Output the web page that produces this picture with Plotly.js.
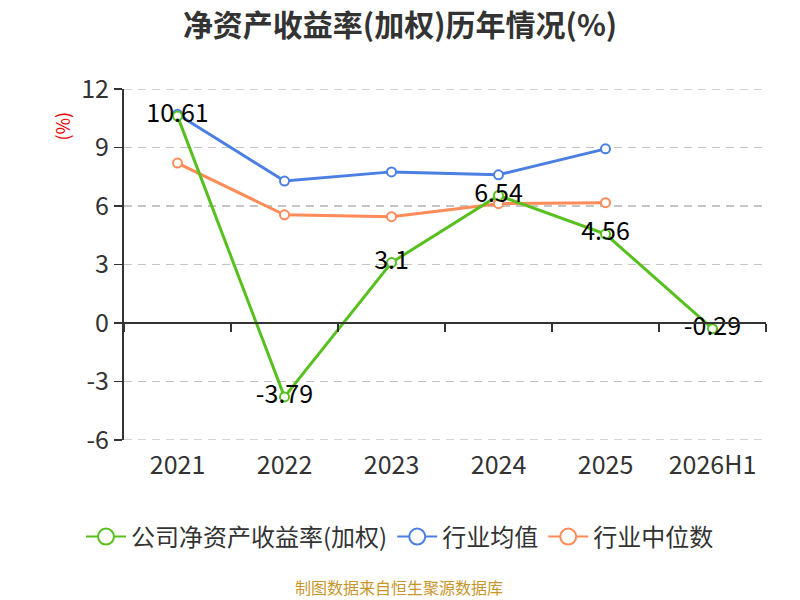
<!DOCTYPE html>
<html>
<head>
<meta charset="utf-8">
<script src="https://cdn.plot.ly/plotly-3.0.1.min.js"></script>
<style>
  html, body { margin: 0; padding: 0; background: #fff; }
  #chart { width: 800px; height: 600px; }
</style>
</head>
<body>
<div id="chart"></div>
<script>
var years = ['2021', '2022', '2023', '2024', '2025', '2026H1'];
var companyRoe = [10.61, -3.79, 3.1, 6.54, 4.56, -0.29];
var industryMean = [10.7, 7.28, 7.75, 7.6, 8.93, null];
var industryMedian = [8.2, 5.55, 5.45, 6.12, 6.17, null];
var yTicks = [-6, -3, 0, 3, 6, 9, 12];

var seriesNames = ['公司净资产收益率(加权)', '行业均值', '行业中位数'];
var seriesColors = ['#57c01f', '#4b7fe3', '#fe8b58'];

var font = '"Noto Sans CJK SC", "Noto Sans", sans-serif';

function lineTrace(i, y, withText) {
    var t = {
        x: years,
        y: y,
        name: seriesNames[i],
        type: 'scatter',
        mode: withText ? 'lines+markers+text' : 'lines+markers',
        line: { color: seriesColors[i], width: 3 },
        marker: { symbol: 'circle', size: 9, color: '#fff', line: { color: seriesColors[i], width: 2 } },
        showlegend: false,
        cliponaxis: false,
        hoverinfo: 'x+y'
    };
    if (withText) {
        t.text = y.map(function (v) { return String(v); });
        t.textposition = 'middle center';
        t.textfont = { family: font, size: 25, color: '#000' };
    }
    return t;
}

// legend-only entries, so the legend circles can be drawn larger than the plot markers
function legendTrace(i) {
    return {
        x: [null],
        y: [null],
        name: seriesNames[i],
        type: 'scatter',
        mode: 'lines+markers',
        line: { color: seriesColors[i], width: 2 },
        marker: { symbol: 'circle', size: 17, color: '#fff', line: { color: seriesColors[i], width: 2 } },
        legendrank: i + 1,
        hoverinfo: 'skip'
    };
}

var data = [
    lineTrace(2, industryMedian, false),
    lineTrace(1, industryMean, false),
    lineTrace(0, companyRoe, true),
    legendTrace(0),
    legendTrace(1),
    legendTrace(2),
    // second x axis used only to draw the axis line with ticks at y = 0
    { x: years, y: [null, null, null, null, null, null], xaxis: 'x2', type: 'scatter', mode: 'lines', showlegend: false, hoverinfo: 'skip' }
];

// dashed lines at the two ends of the value axis (plotly drops grid lines on the range edges)
var edgeGrid = [yTicks[0], yTicks[yTicks.length - 1]].map(function (v) {
    return {
        type: 'line', layer: 'below',
        xref: 'paper', x0: 0, x1: 1,
        yref: 'y', y0: v, y1: v,
        line: { color: '#c4c4c4', width: 1.5, dash: '8px,6px' }
    };
});

var layout = {
    width: 800,
    height: 600,
    margin: { l: 124, r: 34, t: 89, b: 160 },
    paper_bgcolor: '#fff',
    plot_bgcolor: '#fff',
    font: { family: font, color: '#333' },
    title: {
        text: '<b>净资产收益率(加权)历年情况(%)</b>',
        font: { family: font, size: 30, color: '#333' },
        x: 0.5, xanchor: 'center', xref: 'container',
        y: 0.957, yanchor: 'middle'
    },
    xaxis: {
        type: 'category',
        showline: false,
        showgrid: false,
        zeroline: false,
        ticks: '',
        tickfont: { family: font, size: 25, color: '#333' },
        ticklabelstandoff: 8,
        range: [-0.5, 5.5]
    },
    xaxis2: {
        type: 'category',
        overlaying: 'x',
        anchor: 'free',
        position: 6 / 18,
        side: 'bottom',
        showline: true,
        linecolor: '#333',
        linewidth: 2,
        ticks: 'outside',
        tickson: 'boundaries',
        ticklen: 8,
        tickwidth: 1.5,
        tickcolor: '#333',
        showticklabels: false,
        showgrid: false,
        zeroline: false,
        range: [-0.5, 5.5]
    },
    yaxis: {
        range: [-6, 12],
        tickvals: yTicks,
        ticktext: yTicks.map(String),
        tickfont: { family: font, size: 25, color: '#333' },
        showline: true,
        linecolor: '#333',
        linewidth: 2,
        ticks: 'outside',
        ticklen: 8,
        tickwidth: 1.5,
        tickcolor: '#333',
        showgrid: true,
        gridcolor: '#c4c4c4',
        griddash: '8px,6px',
        gridwidth: 1.5,
        zeroline: false
    },
    legend: {
        orientation: 'h',
        xref: 'container', yref: 'container',
        x: 0.5, xanchor: 'center',
        y: 0.105, yanchor: 'middle',
        font: { family: font, size: 24, color: '#333' },
        itemwidth: 40,
        itemsizing: 'trace'
    },
    shapes: edgeGrid,
    annotations: [
        {
            text: '(%)',
            xref: 'paper', yref: 'paper',
            x: -0.097, y: 0.895,
            xanchor: 'center', yanchor: 'middle',
            showarrow: false,
            textangle: -90,
            font: { family: font, size: 18, color: '#e00' }
        },
        {
            text: '制图数据来自恒生聚源数据库',
            xref: 'paper', yref: 'paper',
            x: 0.429, y: -0.418,
            xanchor: 'center', yanchor: 'middle',
            showarrow: false,
            font: { family: font, size: 16, color: '#c8962a' }
        }
    ],
    showlegend: true
};

Plotly.newPlot('chart', data, layout, { displayModeBar: false, staticPlot: true });
</script>
</body>
</html>
